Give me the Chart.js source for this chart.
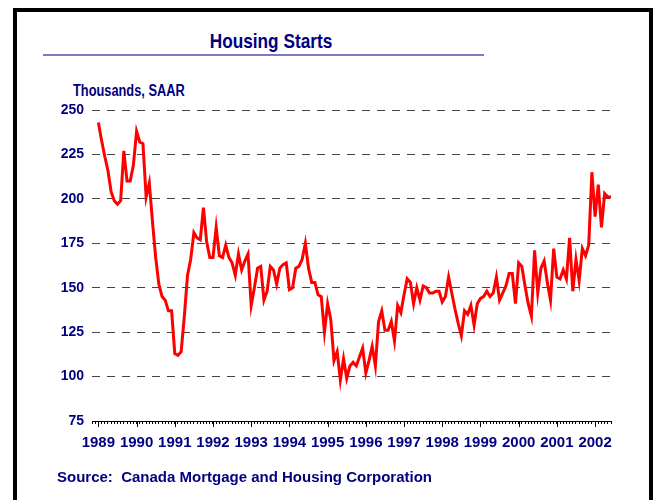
<!DOCTYPE html>
<html lang="en">
<head>
<meta charset="UTF-8">
<title>Housing Starts</title>
<script src="https://cdn.jsdelivr.net/npm/chart.js"></script>
<style>
  html, body { margin:0; padding:0; background:#fff; }
  body { width:653px; height:500px; position:relative; overflow:hidden;
         font-family:"Liberation Sans", Arial, sans-serif; color:#000080; }
  .frame { position:absolute; left:13px; top:8px; width:632px; height:520px;
           border:4px solid #000; }
  .title { position:absolute; left:121px; top:30px; width:300px; text-align:center;
           font:bold 21px/21px "Liberation Sans", Arial, sans-serif;
           transform:scaleX(0.82); transform-origin:50% 50%; }
  .rule { position:absolute; left:43px; top:54px; width:441px; height:2px; background:#7b7bc4; }
  .units { position:absolute; left:73px; top:83px;
           font:bold 16px/16px "Liberation Sans", Arial, sans-serif;
           transform:scaleX(0.8); transform-origin:0 50%; }
  .source { position:absolute; left:57px; top:469px; font:bold 15px/15px "Liberation Sans", Arial, sans-serif; }
  canvas { position:absolute; left:0; top:0; }
</style>
</head>
<body>
<div class="frame"></div>
<div class="title">Housing Starts</div>
<div class="rule"></div>
<div class="units">Thousands, SAAR</div>
<canvas id="startsChart" width="653" height="500"></canvas>
<div class="source">Source:&nbsp; Canada Mortgage and Housing Corporation</div>

<script>
// monthly housing starts, thousands SAAR, Jan 1989 onward
const yearLabels = ['1989','1990','1991','1992','1993','1994','1995',
                    '1996','1997','1998','1999','2000','2001','2002'];
const starts = [
  243,233,224,216,204,199,197,199,227,210,210,219,   // 1989
  238,232,231,201,209,187,167,152,145,143,137,137,   // 1990
  113,112,114,134,157,166,181,178,177,195,176,167,   // 1991
  167,184,168,167,174,167,164,157,169,160,165,169,   // 1992
  140,150,161,162,143,148,162,160,152,161,163,164,   // 1993
  149,150,161,162,166,175,161,153,153,146,145,125,   // 1994
  141,132,109,114, 98,110, 99,106,108,106,111,116,   // 1995
  102,109,117,106,131,137,126,126,131,120,140,136,   // 1996
  146,155,153,141,150,143,151,150,147,147,148,148,   // 1997
  142,145,156,147,138,130,123,137,135,140,129,141,   // 1998
  144,145,148,145,147,156,143,147,151,158,158,141,   // 1999
  164,162,151,141,134,171,147,161,165,153,143,172,   // 2000
  156,155,160,155,178,148,166,154,172,168,174,215,   // 2001
  190,208,184,203,201,201                            // 2002
];
const yTicks = { min:75, max:250, step:25 };

const navy = '#000080';
const points = starts.map((v, i) => ({ x:i, y:v }));

// longer marks under each January
const yearTicks = {
  id:'yearTicks',
  afterDraw(chart) {
    const xs = chart.scales.x, c = chart.ctx;
    c.save();
    c.strokeStyle = '#000';
    c.lineWidth = 1;
    for (let m = 0; m < starts.length; m += 12) {
      const px = Math.round(xs.getPixelForValue(m)) + 0.5;
      c.beginPath();
      c.moveTo(px, xs.top);
      c.lineTo(px, xs.top + 6);
      c.stroke();
    }
    c.restore();
  }
};

new Chart(document.getElementById('startsChart'), {
  type:'line',
  data:{ datasets:[{
    data:points,
    borderColor:'#ff0000',
    borderWidth:3,
    pointRadius:0,
    tension:0,
    fill:false
  }]},
  options:{
    responsive:false,
    animation:false,
    layout:{ padding:{ top:110, right:42, bottom:49, left:0 } },
    plugins:{ legend:{ display:false }, tooltip:{ enabled:false } },
    scales:{
      x:{
        type:'linear',
        min:-2, max:starts.length - 1,
        afterFit(s){ s.height = 30; },
        border:{ display:true, color:'#000', width:1 },
        grid:{ drawOnChartArea:false, drawTicks:true, tickLength:3, tickColor:'#000' },
        ticks:{
          stepSize:1, autoSkip:false, maxTicksLimit:400, maxRotation:0, padding:10,
          color:navy, font:{ family:'"Liberation Sans", Arial, sans-serif', size:15, weight:'bold' },
          callback:v => (v >= 0 && v % 12 === 0) ? yearLabels[v / 12] : ''
        }
      },
      y:{
        min:yTicks.min, max:yTicks.max,
        afterFit(s){ s.width = 92; },
        border:{ display:false, dash:[8,7] },
        grid:{
          drawTicks:false,
          color:c => c.tick && c.tick.value === yTicks.min ? 'rgba(0,0,0,0)' : '#444',
          lineWidth:1
        },
        ticks:{
          stepSize:yTicks.step, padding:8,
          color:navy, font:{ family:'"Liberation Sans", Arial, sans-serif', size:14, weight:'bold' }
        }
      }
    }
  },
  plugins:[yearTicks]
});
</script>
</body>
</html>
